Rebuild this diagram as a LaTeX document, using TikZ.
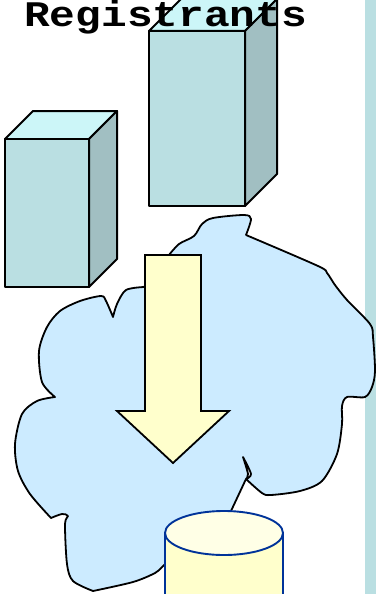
\documentclass[tikz,border=0pt]{standalone}
\usepackage{graphicx}
\usepackage{fontspec}
\setmonofont{Liberation Mono}
\definecolor{boxfront}{HTML}{BADFE2}
\definecolor{boxtop}{HTML}{CCF6F8}
\definecolor{boxside}{HTML}{A1BFC2}
\definecolor{cloudfill}{HTML}{CCEBFF}
\definecolor{arrowfill}{HTML}{FFFFCC}
\definecolor{cyltop}{HTML}{FFFFE6}
\definecolor{cylline}{HTML}{003399}
\tikzset{
  x=1pt,y=-1pt,
  face/.style={draw=black,line width=2pt,line join=round},
  cloudline/.style={draw=black,line width=1.8pt,line join=round,fill=cloudfill},
  arrowshape/.style={draw=black,line width=1.8pt,line join=miter,fill=arrowfill},
  cyl/.style={draw=cylline,line width=1.9pt},
  curve/.style={smooth,tension=0.5}
}
\begin{document}
\begin{tikzpicture}
\useasboundingbox (0,0) rectangle (376,594);
\begin{scope}
\clip (0,0) rectangle (376,594);
% right strip
\fill[boxfront] (365,0) rectangle (376,594);
% tall box
\draw[face,fill=boxtop] (149,31) -- (181,-1) -- (277,-1) -- (245,31) -- cycle;
\draw[face,fill=boxside] (245,31) -- (277,-1) -- (277,174) -- (245,206) -- cycle;
\draw[face,fill=boxfront] (149,31) rectangle (245,206);
% small box
\draw[face,fill=boxtop] (5,139) -- (33,111) -- (117,111) -- (89,139) -- cycle;
\draw[face,fill=boxside] (89,139) -- (117,111) -- (117,259) -- (89,287) -- cycle;
\draw[face,fill=boxfront] (5,139) rectangle (89,287);
% cloud
\draw[cloudline]
  plot[curve] coordinates {(144,287) (126,290) (117,304) (113,317)}
  -- plot[curve] coordinates {(113,317) (106,301) (101,296) (80,301) (60,311) (47,327) (39,351) (42,382) (55,397)}
  -- plot[curve] coordinates {(55,397) (37,401) (22,414) (15,444) (18,471) (30,494) (51,518)}
  -- plot[curve] coordinates {(51,518) (62,514) (68,516) (65,524) (67,564) (73,581) (93,591)}
  -- plot[curve] coordinates {(93,591) (133,582) (155,573) (163,566)}
  -- (231,511) -- (246,479)
  -- plot[curve] coordinates {(246,479) (248,474) (243,457)}
  -- plot[curve] coordinates {(243,457) (251,474) (246,479)}
  -- plot[curve] coordinates {(246,479) (262,493) (271,495) (300,491) (322,481) (337,454) (342,424) (342,406) (347,397) (365,397) (372,387) (375,371) (373,337) (370,324) (347,300) (335,285) (327,273) (318,266) (246,235)}
  -- plot[curve] coordinates {(246,235) (251,219) (244,215) (213,218) (202,224) (194,236) (179,244) (169,255)}
  -- cycle;
% down arrow
\draw[arrowshape] (145,255) -- (201,255) -- (201,411) -- (229,411) -- (173,463) -- (117,411) -- (145,411) -- cycle;
% cylinder
\fill[arrowfill] (165,533) rectangle (283,600);
\draw[cyl] (165,533) -- (165,600) (283,533) -- (283,600);
\draw[cyl,fill=cyltop] (224,533) ellipse [x radius=59,y radius=22];
% title
\node[inner sep=0pt,anchor=base west,font=\ttfamily\bfseries\fontsize{36}{36}\selectfont] (title) at (24,27) {\scalebox{1.19}[1]{Registrants}};
\end{scope}
\end{tikzpicture}
\end{document}
